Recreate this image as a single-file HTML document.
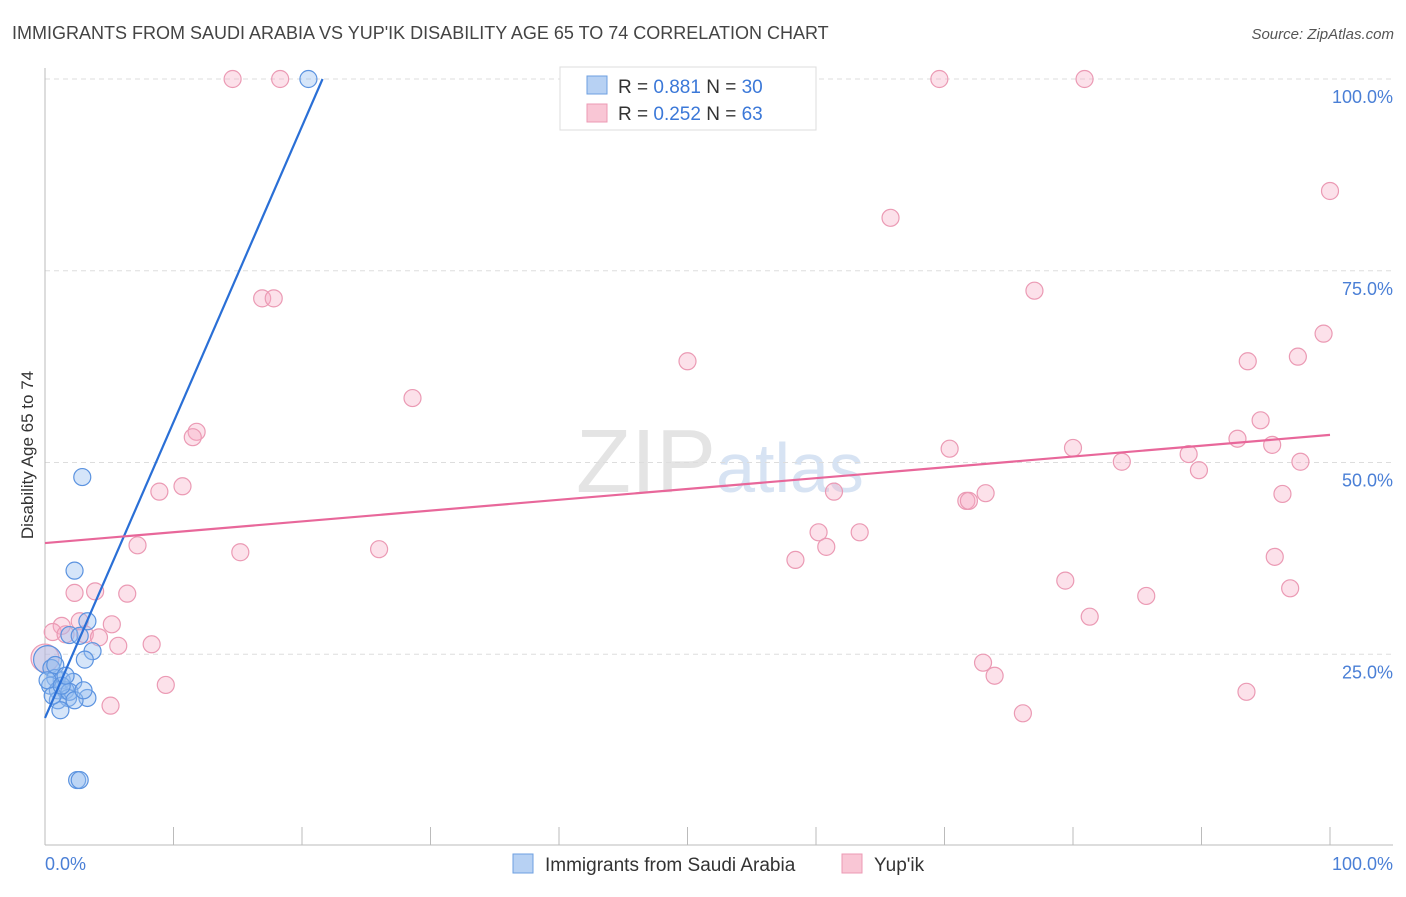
<!DOCTYPE html>
<html><head><meta charset="utf-8"><style>
body{margin:0;background:#fff;font-family:"Liberation Sans",sans-serif}
svg text{font-family:"Liberation Sans",sans-serif}
</style></head><body>
<svg id="chart" width="1406" height="892" xmlns="http://www.w3.org/2000/svg">
<text x="12" y="39" font-size="18" fill="#444">IMMIGRANTS FROM SAUDI ARABIA VS YUP'IK DISABILITY AGE 65 TO 74 CORRELATION CHART</text>
<text x="1394" y="39" font-size="15" fill="#555" text-anchor="end" font-style="italic">Source: ZipAtlas.com</text>
<text x="720" y="492" font-size="90" fill="#e4e4e4" text-anchor="middle" font-family="Liberation Serif">ZIP<tspan fill="#d7e3f3" font-family="Liberation Sans" font-size="70">atlas</tspan></text>
<text transform="translate(33,455) rotate(-90)" font-size="17" fill="#333" text-anchor="middle">Disability Age 65 to 74</text>
<g id="grid"></g><g id="axes"></g><g id="pts"></g><g id="trend"></g>
<g>
<rect x="560" y="67" width="256" height="63" fill="#fff" stroke="#ddd"/>
<rect x="587" y="76" width="20" height="18" fill="#b7d1f3" stroke="#6d9fe0"/>
<text x="618" y="93" font-size="19" fill="#333">R = <tspan fill="#3b78d8">0.881</tspan>   N = <tspan fill="#3b78d8">30</tspan></text>
<rect x="587" y="104" width="20" height="18" fill="#f9c6d5" stroke="#ec9ab4"/>
<text x="618" y="120" font-size="19" fill="#333">R = <tspan fill="#3b78d8">0.252</tspan>   N = <tspan fill="#3b78d8">63</tspan></text>
</g>
<g>
<rect x="513" y="854" width="20" height="19" fill="#b7d1f3" stroke="#6d9fe0"/>
<text x="545" y="871" font-size="19" fill="#333">Immigrants from Saudi Arabia</text>
<rect x="842" y="854" width="20" height="19" fill="#f9c6d5" stroke="#ec9ab4"/>
<text x="874" y="871" font-size="19" fill="#333">Yup'ik</text>
</g>
</svg>
<script>
const blueX=[20.5,2.9,2.3,3.3,1.9,2.7,3.7,3.1,0.2,0.5,0.8,1.3,2.2,0.4,1.0,1.6,3.3,1.8,1.0,1.2,2.5,2.7,0.8,0.2,1.9,0.6,1.3,2.3,1.6,3.0];
const blueY=[100,48.1,35.9,29.3,27.5,27.4,25.4,24.3,24.3,23.2,21.9,21.6,21.4,20.9,20.3,20.3,19.3,19.3,19.0,17.7,8.6,8.6,23.6,21.6,20.1,19.6,20.9,19.0,22.2,20.3];
const pinkX=[14.6,18.3,69.6,80.9,100,65.8,16.9,17.8,77.0,99.5,50.0,93.6,97.5,28.6,94.6,11.8,11.5,92.8,95.5,70.4,80.0,89.0,83.8,97.7,89.8,10.7,8.9,61.4,73.2,96.3,71.7,71.9,60.2,63.4,60.8,7.2,15.2,26.0,58.4,95.7,79.4,3.9,96.9,6.4,2.3,85.7,81.3,5.2,1.3,2.7,0.6,1.6,3.1,4.2,8.3,5.7,0,73.0,73.9,9.4,93.5,5.1,76.1];
const pinkY=[100,100,100,100,85.4,81.9,71.4,71.4,72.4,66.8,63.2,63.2,63.8,58.4,55.5,54.0,53.3,53.1,52.3,51.8,51.9,51.1,50.1,50.1,49.0,46.9,46.2,46.2,46.0,45.9,45.0,45.0,40.9,40.9,39.0,39.2,38.3,38.7,37.3,37.7,34.6,33.2,33.6,32.9,33.0,32.6,29.9,28.9,28.7,29.3,27.9,27.6,27.6,27.2,26.3,26.1,24.5,23.9,22.2,21.0,20.1,18.3,17.3];
const blueTrendX=[0,21.6], blueTrendY=[16.7,100];
const pinkTrendX=[0,100], pinkTrendY=[39.5,53.6];
const yTicks=[25,50,75,100];
const yTickLabels=["25.0%","50.0%","75.0%","100.0%"];
const xTicks=[0,10,20,30,40,50,60,70,80,90,100];
const NS="http://www.w3.org/2000/svg";
const sx=v=>45+v*12.85, sy=v=>846-v*7.67;
function mk(tag,attrs,parent){const e=document.createElementNS(NS,tag);for(const k in attrs)e.setAttribute(k,attrs[k]);document.getElementById(parent).appendChild(e);return e;}
yTicks.forEach((t,i)=>{
 const l=mk('line',{x1:45,x2:1393,y1:sy(t),y2:sy(t),stroke:'#ddd','stroke-dasharray':'5,4'},'grid');
 
 
 const tx=mk('text',{x:1393,y:sy(t)+24,'font-size':18,fill:'#4a7fd6','text-anchor':'end'},'grid');
 tx.textContent=yTickLabels[i];
 
 
});
const ax=mk('line',{x1:45,x2:1393,y1:845,y2:845,stroke:'#bbb'},'axes');


const ay=mk('line',{x1:45,x2:45,y1:68,y2:845,stroke:'#bbb'},'axes');


xTicks.forEach(t=>{
 const l=mk('line',{x1:sx(t),x2:sx(t),y1:827,y2:845,stroke:'#bbb'},'axes');
 
 
});
const x0=mk('text',{x:45,y:870,'font-size':18,fill:'#4a7fd6'},'axes');x0.textContent='0.0%';


const x1=mk('text',{x:1393,y:870,'font-size':18,fill:'#4a7fd6','text-anchor':'end'},'axes');x1.textContent='100.0%';


pinkX.forEach((v,i)=>{
 const c=mk('circle',{cx:sx(v),cy:sy(pinkY[i]),r:i==56?14:8.5,fill:'rgba(246,170,195,0.35)',stroke:'#eb9ab4','stroke-width':1.2},'pts');
 
 
});
blueX.forEach((v,i)=>{
 const c=mk('circle',{cx:sx(v),cy:sy(blueY[i]),r:i==8?14:8.5,fill:'rgba(150,190,240,0.4)',stroke:'#5b93e0','stroke-width':1.2},'pts');
 
 
});
const bt=mk('line',{x1:sx(blueTrendX[0]),y1:sy(blueTrendY[0]),x2:sx(blueTrendX[1]),y2:sy(blueTrendY[1]),stroke:'#2a6fd6','stroke-width':2.2},'trend');


const pt=mk('line',{x1:sx(pinkTrendX[0]),y1:sy(pinkTrendY[0]),x2:sx(pinkTrendX[1]),y2:sy(pinkTrendY[1]),stroke:'#e8679a','stroke-width':2.2},'trend');


</script>
</body></html>
